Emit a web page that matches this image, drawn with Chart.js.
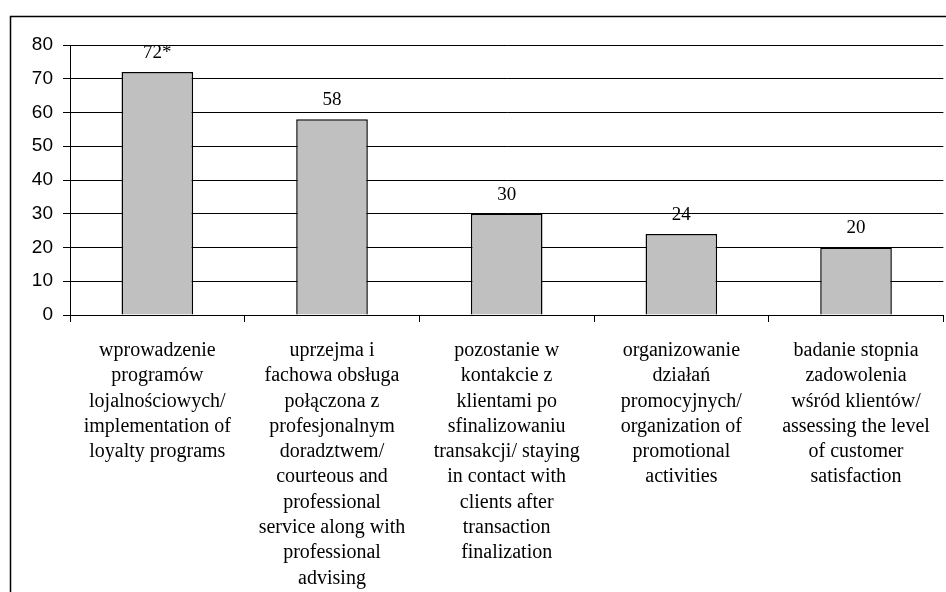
<!DOCTYPE html>
<html>
<head>
<meta charset="utf-8">
<script src="https://cdn.jsdelivr.net/npm/chart.js@4"></script>
<style>
  html, body { margin: 0; padding: 0; background: #fff; }
  #wrap { position: relative; width: 946px; height: 592px; }
</style>
</head>
<body>
<div id="wrap"><canvas id="chart" width="946" height="592"></canvas></div>
<script>
// dane z wykresu
const categories = [
  ['wprowadzenie', 'programów', 'lojalnościowych/', 'implementation of', 'loyalty programs'],
  ['uprzejma i', 'fachowa obsługa', 'połączona z', 'profesjonalnym', 'doradztwem/', 'courteous and', 'professional', 'service along with', 'professional', 'advising'],
  ['pozostanie w', 'kontakcie z', 'klientami po', 'sfinalizowaniu', 'transakcji/ staying', 'in contact with', 'clients after', 'transaction', 'finalization'],
  ['organizowanie', 'działań', 'promocyjnych/', 'organization of', 'promotional', 'activities'],
  ['badanie stopnia', 'zadowolenia', 'wśród klientów/', 'assessing the level', 'of customer', 'satisfaction']
];
const values = [72, 58, 30, 24, 20];
const valueLabels = ['72*', '58', '30', '24', '20'];
const yTicks = [0, 10, 20, 30, 40, 50, 60, 70, 80];

// ramka wokół wykresu (ucięta z prawej i od dołu)
const framePlugin = {
  id: 'frame',
  beforeDraw(chart) {
    const ctx = chart.ctx;
    ctx.save();
    ctx.strokeStyle = '#000';
    ctx.lineWidth = 1.5;
    ctx.strokeRect(10.5, 16.5, 1000, 1000);
    ctx.restore();
  }
};

// etykiety wartości nad słupkami
const valueLabelPlugin = {
  id: 'valueLabels',
  afterDatasetsDraw(chart) {
    const ctx = chart.ctx;
    const meta = chart.getDatasetMeta(0);
    ctx.save();
    ctx.font = '19px "Liberation Serif", "Times New Roman", serif';
    ctx.fillStyle = '#000';
    ctx.textAlign = 'center';
    ctx.textBaseline = 'middle';
    meta.data.forEach((bar, i) => {
      ctx.fillText(valueLabels[i], bar.x, bar.y - 19);
    });
    ctx.restore();
  }
};

new Chart(document.getElementById('chart'), {
  type: 'bar',
  data: {
    labels: categories,
    datasets: [{
      data: values,
      backgroundColor: '#c0c0c0',
      borderColor: '#000',
      borderWidth: 1.5,
      barPercentage: 0.41,
      categoryPercentage: 1
    }]
  },
  options: {
    responsive: false,
    animation: false,
    events: [],
    layout: { padding: { top: 45, right: 1, left: 0, bottom: 0 } },
    plugins: { legend: { display: false }, tooltip: { enabled: false } },
    scales: {
      x: {
        grid: { drawOnChartArea: false, color: '#000', tickLength: 7, offset: true },
        border: { color: '#000', width: 1 },
        ticks: {
          autoSkip: false, maxRotation: 0, minRotation: 0, padding: 16,
          color: '#000',
          font: { family: '"Liberation Serif", "Times New Roman", serif', size: 20, lineHeight: 1.265 }
        },
        afterFit(scale) { scale.height = 277; }
      },
      y: {
        min: 0, max: 80,
        afterBuildTicks(scale) { scale.ticks = yTicks.map(v => ({ value: v })); },
        grid: { color: '#000', tickLength: 7 },
        border: { color: '#000', width: 1 },
        ticks: {
          padding: 10, color: '#000',
          font: { family: '"Liberation Sans", Arial, sans-serif', size: 19 }
        },
        afterFit(scale) { scale.width = 70; }
      }
    }
  },
  plugins: [framePlugin, valueLabelPlugin]
});
</script>
</body>
</html>
